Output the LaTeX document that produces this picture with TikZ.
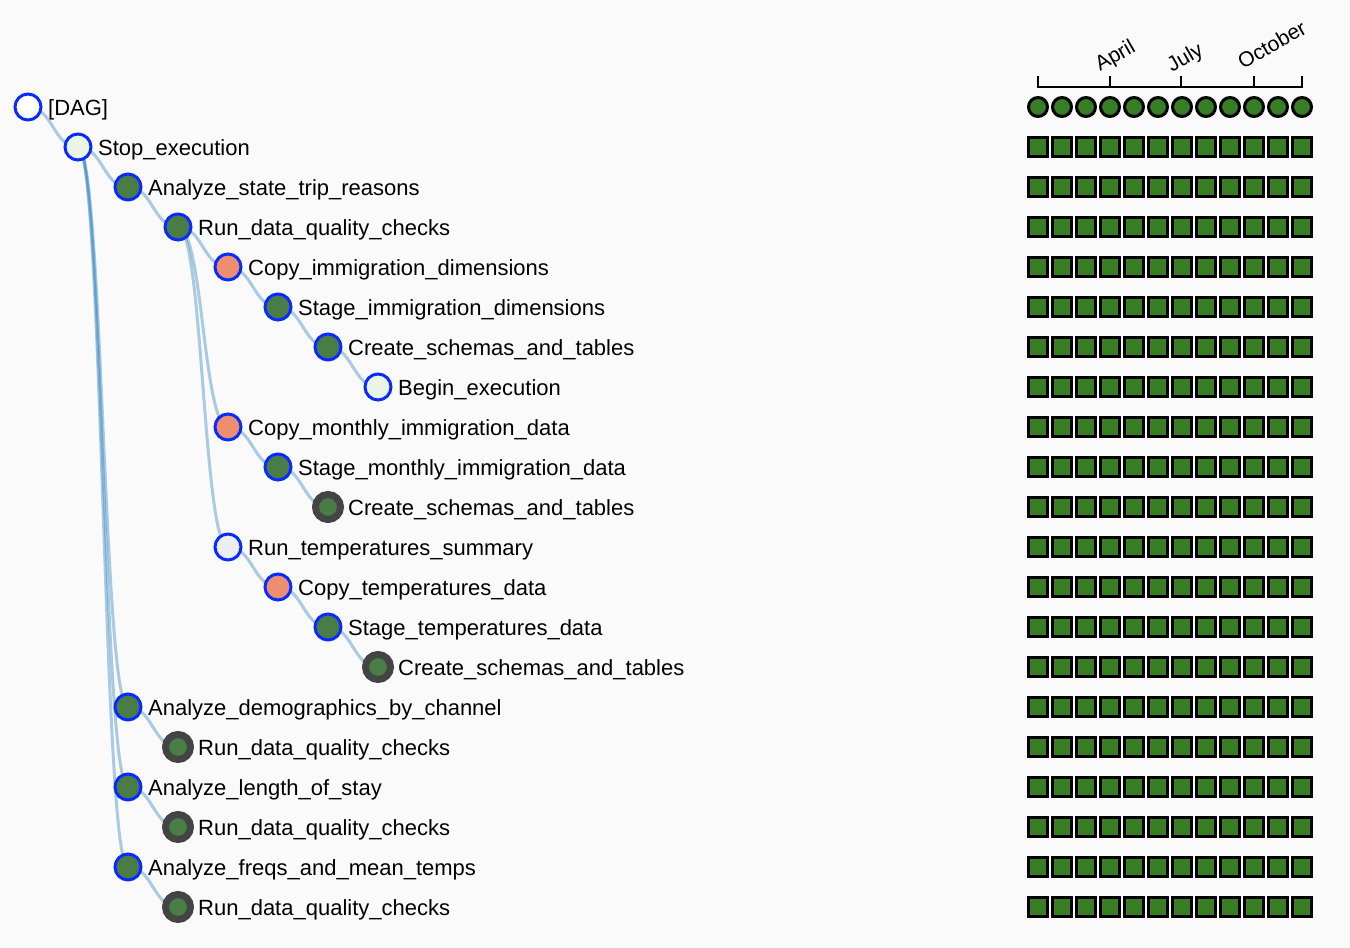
\documentclass[tikz,border=0pt]{standalone}
\usepackage{fontspec}
\setmainfont{Liberation Sans}
\usetikzlibrary{calc,backgrounds}
\definecolor{bgc}{HTML}{FAFAFA}
\definecolor{sgreen}{HTML}{4A7D45}
\definecolor{salmonc}{HTML}{EC8E6F}
\definecolor{tblue}{HTML}{0A2BFF}
\definecolor{dgray}{HTML}{444444}
\definecolor{lgreen}{HTML}{EBF5E6}
\definecolor{lgrayc}{HTML}{ECEDEF}
\definecolor{sqgreen}{HTML}{387D24}
\definecolor{lnkc}{HTML}{3182BD}
\newcommand\treelink[2]{\draw[tlink] let \p1=(#1.center), \p2=(#2.center), \n1={(\x1+\x2)/2} in (\p1) .. controls (\n1,\y1) and (\n1,\y2) .. (\p2);}
\begin{document}
\begin{tikzpicture}[x=1pt,y=-1pt,
  tnode/.style={circle,minimum size=26pt,inner sep=0pt,draw=tblue,line width=3pt},
  twhite/.style={tnode,fill=white},
  tlgreen/.style={tnode,fill=lgreen},
  tlgray/.style={tnode,fill=lgrayc},
  tgreen/.style={tnode,fill=sgreen},
  tsalmon/.style={tnode,fill=salmonc},
  tleaf/.style={circle,minimum size=25pt,inner sep=0pt,draw=dgray,line width=7pt,fill=sgreen},
  tlabel/.style={anchor=base west,inner sep=0pt,font=\fontsize{22}{26}\selectfont},
  tlink/.style={draw=lnkc,draw opacity=0.4,line width=3pt},
  runcirc/.style={circle,minimum size=19pt,inner sep=0pt,draw=black,line width=3pt,fill=sqgreen},
  tisq/.style={rectangle,minimum size=19pt,inner sep=0pt,draw=black,line width=2.5pt,fill=sqgreen},
  axlabel/.style={anchor=base west,inner sep=0pt,rotate=30,font=\fontsize{21}{25}\selectfont}
]
% tree nodes
\node[twhite]  (n0)  at (28,107) {};
\node[tlgreen] (n1)  at (78,147) {};
\node[tgreen]  (n2)  at (128,187) {};
\node[tgreen]  (n3)  at (178,227) {};
\node[tsalmon] (n4)  at (228,267) {};
\node[tgreen]  (n5)  at (278,307) {};
\node[tgreen]  (n6)  at (328,347) {};
\node[tlgreen] (n7)  at (378,387) {};
\node[tsalmon] (n8)  at (228,427) {};
\node[tgreen]  (n9)  at (278,467) {};
\node[tleaf]   (n10) at (328,507) {};
\node[tlgray]  (n11) at (228,547) {};
\node[tsalmon] (n12) at (278,587) {};
\node[tgreen]  (n13) at (328,627) {};
\node[tleaf]   (n14) at (378,667) {};
\node[tgreen]  (n15) at (128,707) {};
\node[tleaf]   (n16) at (178,747) {};
\node[tgreen]  (n17) at (128,787) {};
\node[tleaf]   (n18) at (178,827) {};
\node[tgreen]  (n19) at (128,867) {};
\node[tleaf]   (n20) at (178,907) {};
% labels
\node[tlabel] (l0)  at (48,115)  {[DAG]};
\node[tlabel] (l1)  at (98,155)  {Stop\_execution};
\node[tlabel] (l2)  at (148,195) {Analyze\_state\_trip\_reasons};
\node[tlabel] (l3)  at (198,235) {Run\_data\_quality\_checks};
\node[tlabel] (l4)  at (248,275) {Copy\_immigration\_dimensions};
\node[tlabel] (l5)  at (298,315) {Stage\_immigration\_dimensions};
\node[tlabel] (l6)  at (348,355) {Create\_schemas\_and\_tables};
\node[tlabel] (l7)  at (398,395) {Begin\_execution};
\node[tlabel] (l8)  at (248,435) {Copy\_monthly\_immigration\_data};
\node[tlabel] (l9)  at (298,475) {Stage\_monthly\_immigration\_data};
\node[tlabel] (l10) at (348,515) {Create\_schemas\_and\_tables};
\node[tlabel] (l11) at (248,555) {Run\_temperatures\_summary};
\node[tlabel] (l12) at (298,595) {Copy\_temperatures\_data};
\node[tlabel] (l13) at (348,635) {Stage\_temperatures\_data};
\node[tlabel] (l14) at (398,675) {Create\_schemas\_and\_tables};
\node[tlabel] (l15) at (148,715) {Analyze\_demographics\_by\_channel};
\node[tlabel] (l16) at (198,755) {Run\_data\_quality\_checks};
\node[tlabel] (l17) at (148,795) {Analyze\_length\_of\_stay};
\node[tlabel] (l18) at (198,835) {Run\_data\_quality\_checks};
\node[tlabel] (l19) at (148,875) {Analyze\_freqs\_and\_mean\_temps};
\node[tlabel] (l20) at (198,915) {Run\_data\_quality\_checks};
% background and links
\begin{scope}[on background layer]
  \fill[bgc] (0,0) rectangle (1350,948);
  \treelink{n0}{n1}
  \treelink{n1}{n2}
  \treelink{n2}{n3}
  \treelink{n3}{n4}
  \treelink{n4}{n5}
  \treelink{n5}{n6}
  \treelink{n6}{n7}
  \treelink{n3}{n8}
  \treelink{n8}{n9}
  \treelink{n9}{n10}
  \treelink{n3}{n11}
  \treelink{n11}{n12}
  \treelink{n12}{n13}
  \treelink{n13}{n14}
  \treelink{n1}{n15}
  \treelink{n15}{n16}
  \treelink{n1}{n17}
  \treelink{n17}{n18}
  \treelink{n1}{n19}
  \treelink{n19}{n20}
\end{scope}
% time axis
\draw[line width=1.5pt] (1038,76) -- (1038,87) -- (1302,87) -- (1302,76);
\foreach \tx in {1110,1181,1254} \draw[line width=1.5pt] (\tx,76) -- (\tx,87);
\node[axlabel] (aapr) at (1100,72) {April};
\node[axlabel] (ajul) at (1172,73) {July};
\node[axlabel] (aoct) at (1243,70) {October};
% run circles
\foreach \c in {0,...,11} \node[runcirc] (r\c) at (1038+24*\c,107) {};
% task squares
\foreach \r in {1,...,20} {
  \foreach \c in {0,...,11} \node[tisq] (s\r-\c) at (1038+24*\c,107+40*\r) {};
}
\end{tikzpicture}
\end{document}
